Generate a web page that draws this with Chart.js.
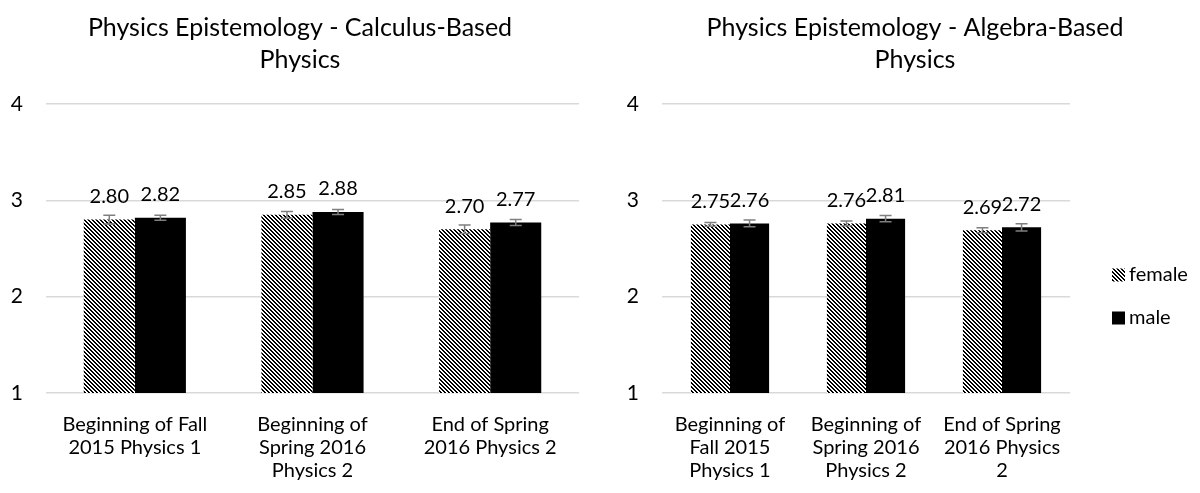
<!DOCTYPE html>
<html lang="en">
<head>
  <meta charset="UTF-8" />
  <title>Physics Epistemology</title>
  <script src="https://cdn.jsdelivr.net/npm/chart.js"></script>
  <style>
    body { margin: 0; background: #fff; overflow: hidden; }
    .wrap { position: relative; width: 1200px; height: 493px; overflow: hidden; }
    #calcChart { position: absolute; left: 0; top: 0; }
    #algChart { position: absolute; left: 620px; top: 0; }
  </style>
</head>
<body>
  <div class="wrap">
    <canvas id="calcChart" width="600" height="493"></canvas>
    <canvas id="algChart" width="590" height="493"></canvas>
  </div>

  <script>
    // data
    const seriesNames = ["female", "male"];
    const yTicks = [1, 2, 3, 4];

    const calcTitle = ["Physics Epistemology - Calculus-Based", "Physics"];
    const calcCategories = [
      ["Beginning of Fall", "2015 Physics 1"],
      ["Beginning of", "Spring 2016", "Physics 2"],
      ["End of Spring", "2016 Physics 2"]
    ];
    const calcFemale = [2.80, 2.85, 2.70];
    const calcMale = [2.82, 2.88, 2.77];
    const calcFemaleErr = [0.045, 0.035, 0.043];
    const calcMaleErr = [0.026, 0.026, 0.03];

    const algTitle = ["Physics Epistemology - Algebra-Based", "Physics"];
    const algCategories = [
      ["Beginning of", "Fall 2015", "Physics 1"],
      ["Beginning of", "Spring 2016", "Physics 2"],
      ["End of Spring", "2016 Physics", "2"]
    ];
    const algFemale = [2.75, 2.76, 2.69];
    const algMale = [2.76, 2.81, 2.72];
    const algFemaleErr = [0.02, 0.025, 0.026];
    const algMaleErr = [0.035, 0.033, 0.038];

    const FONT = "Lato, 'Open Sans', sans-serif";

    // dark downward diagonal hatch
    function makeHatch() {
      const c = document.createElement("canvas");
      c.width = 4; c.height = 4;
      const g = c.getContext("2d");
      g.fillStyle = "#fff";
      g.fillRect(0, 0, 4, 4);
      g.fillStyle = "#000";
      for (let y = 0; y < 4; y++) {
        for (let x = 0; x < 4; x++) {
          if (((x - y) % 4 + 4) % 4 < 2) g.fillRect(x, y, 1, 1);
        }
      }
      return g.createPattern(c, "repeat");
    }

    // error bars + value labels
    const barExtras = {
      id: "barExtras",
      afterDatasetsDraw(chart) {
        const ctx = chart.ctx;
        const y = chart.scales.y;
        ctx.save();
        chart.data.datasets.forEach((ds, i) => {
          const meta = chart.getDatasetMeta(i);
          meta.data.forEach((bar, j) => {
            const v = ds.data[j], e = ds.errors[j];
            const top = y.getPixelForValue(v + e);
            const bot = y.getPixelForValue(v - e);
            ctx.strokeStyle = "#7f7f7f";
            ctx.lineWidth = 1.5;
            ctx.beginPath();
            ctx.moveTo(bar.x, top); ctx.lineTo(bar.x, bot);
            ctx.moveTo(bar.x - 6, top); ctx.lineTo(bar.x + 6, top);
            ctx.moveTo(bar.x - 6, bot); ctx.lineTo(bar.x + 6, bot);
            ctx.stroke();
          });
        });
        ctx.fillStyle = "#000";
        ctx.font = "20px " + FONT;
        ctx.textAlign = "center";
        ctx.textBaseline = "middle";
        chart.data.datasets.forEach((ds, i) => {
          const meta = chart.getDatasetMeta(i);
          meta.data.forEach((bar, j) => {
            ctx.fillText(ds.data[j].toFixed(2), bar.x, bar.y - 23);
          });
        });
        ctx.restore();
      }
    };

    // legend to the right of the plot, square swatch + name
    const sideLegend = {
      id: "sideLegend",
      afterDraw(chart, args, opts) {
        if (!opts.show) return;
        const ctx = chart.ctx;
        const x0 = chart.chartArea.right + 42;
        ctx.save();
        ctx.font = "20px " + FONT;
        ctx.textBaseline = "middle";
        ctx.textAlign = "left";
        chart.data.datasets.forEach((ds, i) => {
          const yc = 275 + i * 43;
          ctx.fillStyle = ds.backgroundColor;
          ctx.fillRect(x0, yc - 6.5, 13, 13);
          ctx.fillStyle = "#000";
          ctx.fillText(ds.label, x0 + 17, yc);
        });
        ctx.restore();
      }
    };

    function buildChart(id, title, categories, female, male, femaleErr, maleErr, withLegend) {
      const ctx = document.getElementById(id).getContext("2d");
      return new Chart(ctx, {
        type: "bar",
        data: {
          labels: categories,
          datasets: [
            { label: seriesNames[0], data: female, errors: femaleErr,
              backgroundColor: makeHatch(), borderWidth: 0 },
            { label: seriesNames[1], data: male, errors: maleErr,
              backgroundColor: "#000", borderWidth: 0 }
          ]
        },
        options: {
          responsive: false,
          animation: false,
          layout: { padding: 0 },
          datasets: { bar: { barPercentage: 1, categoryPercentage: 0.575 } },
          scales: {
            x: {
              grid: { display: false, drawTicks: false },
              border: { display: false },
              ticks: {
                color: "#000",
                font: { family: FONT, size: 20, lineHeight: 1.15 },
                padding: 20,
                maxRotation: 0, minRotation: 0, autoSkip: false
              },
              afterFit(a) { a.height = 100; }
            },
            y: {
              min: yTicks[0], max: yTicks[yTicks.length - 1],
              grid: { color: "#d9d9d9", lineWidth: 1.5, drawTicks: false },
              border: { display: false },
              ticks: {
                stepSize: 1, color: "#000", padding: 23,
                font: { family: FONT, size: 21 }
              },
              afterFit(a) { a.width = withLegend ? 42 : 46; }
            },
            // empty room right of the plot (legend space)
            side: {
              type: "linear", position: "right", display: true,
              grid: { display: false }, border: { display: false },
              ticks: { display: false },
              afterFit(a) { a.width = withLegend ? 140 : 21; }
            }
          },
          plugins: {
            title: {
              display: true, text: title, color: "#000",
              font: { family: FONT, size: 25, weight: "normal", lineHeight: 1.28 },
              padding: { top: 12, bottom: 28 }
            },
            legend: { display: false },
            tooltip: { enabled: false },
            sideLegend: { show: withLegend }
          }
        },
        plugins: [barExtras, sideLegend]
      });
    }

    buildChart("calcChart", calcTitle, calcCategories, calcFemale, calcMale, calcFemaleErr, calcMaleErr, false);
    buildChart("algChart", algTitle, algCategories, algFemale, algMale, algFemaleErr, algMaleErr, true);
  </script>
</body>
</html>
